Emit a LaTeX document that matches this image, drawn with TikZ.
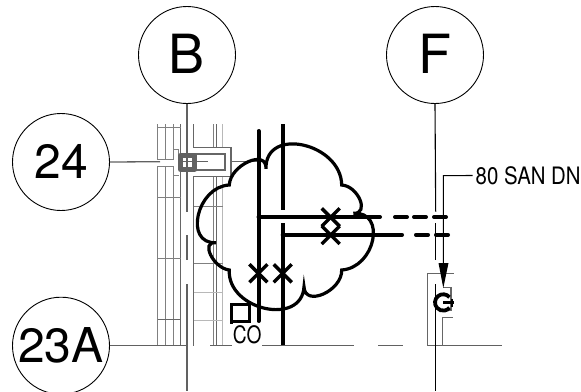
\documentclass[tikz,border=0pt]{standalone}
\usepackage{fontspec}
\setmainfont{TeX Gyre Heros}
\usetikzlibrary{arrows.meta}
\tikzset{
  bubble/.style={circle,draw=black,line width=0.9pt,minimum size=97pt,inner sep=0pt,font=\fontsize{48}{48}\selectfont},
  bigbubble/.style={bubble,font=\fontsize{54}{54}\selectfont},
  heavy/.style={draw=black,line width=4pt},
  crossmark/.style={draw=black,line width=3.4pt},
  grid/.style={draw=black!50,line width=1pt},
  gridlight/.style={draw=black!28,line width=1.3pt},
  griddark/.style={draw=black!60,line width=1.5pt},
  axis/.style={draw=black!62,line width=1.3pt},
  note/.style={inner sep=0pt,font=\fontsize{24}{24}\selectfont},
}
\begin{document}
\begin{tikzpicture}[x=1pt,y=-1pt]
\useasboundingbox (0,0) rectangle (581,391);
% bubbles
\node[bigbubble] (b) at (187,55) {\raisebox{1.5pt}{B}};
\node[bigbubble] (f) at (435,55) {\raisebox{1.5pt}{F}};
\node[bubble] (n24) at (61,162) {\raisebox{1pt}{24}};
\node[bubble] (n23) at (61,345.7) {23A};
% grids left
\draw[grid] (157.7,124) -- (157.7,159.3) -- (173,159.3) -- (173,149.5) -- (178.5,149.5) -- (178.5,155);
\draw[grid] (165,124) -- (165,159);
\draw[grid] (173,124) -- (173,150);
\draw[griddark] (180.7,124) -- (180.7,153);
\draw[grid] (157.7,127) -- (180.7,127);
\draw[grid] (157.7,346) -- (157.7,166.8) -- (173,166.8) -- (173,175) -- (179,175);
\draw[grid] (165,167) -- (165,346);
\draw[grid] (173,175) -- (173,346);
\draw[griddark] (180.7,172) -- (180.7,346);
\draw[grid] (157.7,197.3) -- (180.7,197.3);
\draw[grid] (157.7,258.3) -- (180.7,258.3);
\draw[griddark] (157.7,319.5) -- (180.7,319.5);
% grids right
\draw[griddark] (193.7,124) -- (193.7,147.3) -- (231,147.3) -- (231,176.7) -- (193.7,176.7) -- (193.7,346);
\draw[grid] (213.5,124) -- (213.5,147);
\draw[grid] (213.5,177) -- (213.5,346);
\draw[griddark] (216.7,124) -- (216.7,147);
\draw[griddark] (216.7,177) -- (216.7,346);
\draw[gridlight] (222.7,124) -- (222.7,147);
\draw[gridlight] (222.7,177) -- (222.7,346);
\draw[grid] (193.7,206) -- (222.7,206);
\draw[grid] (193.7,263.5) -- (222.7,263.5);
\draw[gridlight] (193.7,292.3) -- (222.7,292.3);
\draw[gridlight] (193.7,320.7) -- (222.7,320.7);
% column tag
\draw[griddark] (194,154) -- (225,154) -- (225,170) -- (194,170);
\draw[griddark] (231,161.7) -- (258,161.7);
\draw[draw=black!62,line width=5pt,line join=round] (180.5,155.5) rectangle (194.5,169.5);
\draw[axis] (183,161.7) -- (208,161.7);
\draw[axis] (n24.east) -- (160,161.7);
% bottom axis
\draw[axis] (n23.east) -- (187,345.7);
\draw[axis] (210,345.7) -- (232,345.7);
\draw[axis] (262,345.7) -- (354,345.7);
\draw[axis] (378,345.7) -- (403,345.7);
\draw[axis] (427,345.7) -- (502,345.7);
% vertical axes
\draw[axis] (b.south) -- (187,212);
\draw[axis] (187,235) -- (187,260);
\draw[axis] (187,284) -- (187,391);
\draw[draw=black,line width=1.1pt] (f.south) -- (435.7,211.7);
\draw[draw=black,line width=1.1pt] (435.7,223) -- (435.7,260);
\draw[draw=black,line width=1.1pt] (435.7,284) -- (435.7,391);
% right gray shapes
\draw[griddark] (427.7,345.7) -- (427.7,273.3) -- (454,273.3);
\draw[griddark] (442.3,345.7) -- (442.3,317.3) -- (453,317.3);
\draw[griddark] (443,287.5) -- (451,287.5) -- (451,310) -- (445,310);
% cloud
\coordinate (ca) at (266,168.7);
\coordinate (cb) at (341.7,185);
\coordinate (cc) at (353.3,213.3);
\coordinate (cd) at (341.7,270);
\coordinate (ce) at (304,286.7);
\coordinate (cf) at (229.3,270);
\coordinate (cg) at (216,242.7);
\coordinate (ch) at (229.3,185);
\draw[draw=black,line width=3.2pt,line join=miter]
 (ca) .. controls (265,126) and (341,143) .. (cb)
 .. controls (358.4,186) and (370,214.3) .. (cc)
 .. controls (386.9,211) and (375.3,267.7) .. (cd)
 .. controls (342.3,290.9) and (304.6,307.6) .. (ce)
 .. controls (301.8,326.7) and (227.1,310) .. (cf)
 .. controls (213.3,268.2) and (200,240.9) .. (cg)
 .. controls (183.5,244.2) and (196.8,186.5) .. (ch)
 .. controls (230.2,164.8) and (266.9,148.5) .. (ca) -- cycle;
% heavy lines
\draw[heavy,line cap=round] (258.5,131) -- (258.5,321);
\draw[heavy] (282.7,124) -- (282.7,210);
\draw[heavy] (282.7,223) -- (282.7,345);
\draw[heavy,line cap=round] (258.5,217) -- (380,217);
\draw[heavy,line cap=round] (282.7,234.8) -- (402,234.8);
\draw[heavy,line cap=round] (395,217) -- (407,217);
\draw[heavy,line cap=round] (414,217) -- (426,217);
\draw[heavy,line cap=round] (434,217) -- (446,217);
\draw[heavy,line cap=round] (416,234.8) -- (428,234.8);
\draw[heavy,line cap=round] (436,234.8) -- (448,234.8);
% crosses
\foreach \cx/\cy in {258.4/273.3,282.7/273.3,330.7/217.3,330.7/235}{
  \draw[crossmark] (\cx-9,\cy-9) -- (\cx+9,\cy+9);
  \draw[crossmark] (\cx-9,\cy+9) -- (\cx+9,\cy-9);
}
% CO
\draw[draw=black,line width=3pt] (231.5,323.5) -- (231.5,304.5) -- (249,304.5) -- (249,321) -- (231.5,321);
\node[note,xscale=0.8] (co) at (247.3,335) {CO};
% leader
\node[note,xscale=0.85,anchor=west] (san) at (475.5,175.5) {80 SAN DN};
\coordinate (lead) at (443.3,175.7);
\draw[draw=black,line width=1.1pt] (san.west) ++(-3,0) -- (lead) -- (443.3,264);
\fill[black] (438.5,263) -- (448.5,263) -- (443.3,288) -- cycle;
% cleanout symbol
\draw[draw=black,line width=3.8pt] (449.5,297.2) arc[start angle=-40,end angle=-320,radius=8.2];
\draw[draw=black,line width=2.6pt] (443,302.5) -- (454,302.5);
\draw[draw=black,line width=2.2pt] (452,298.5) -- (452,306.5);
\end{tikzpicture}
\end{document}
